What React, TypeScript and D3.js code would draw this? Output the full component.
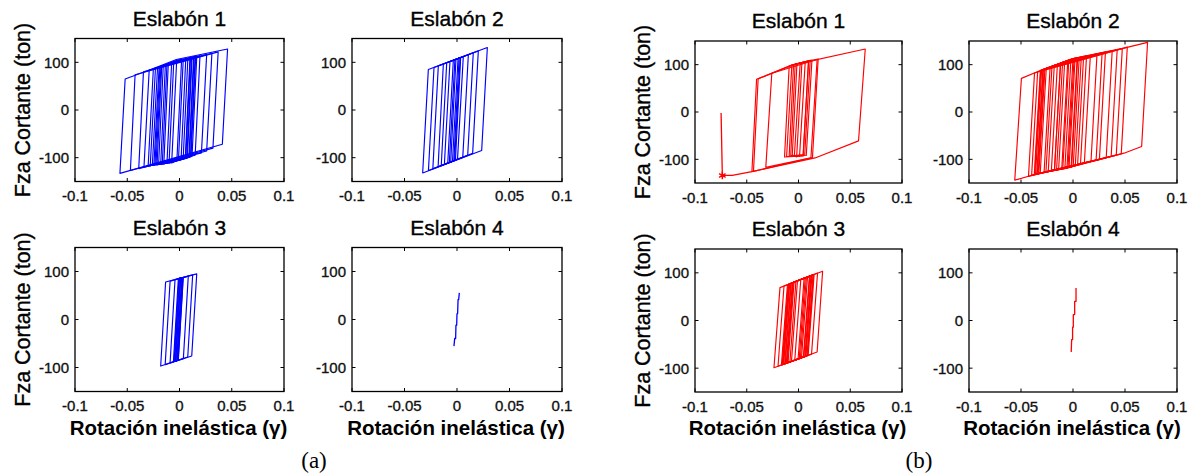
import React from "react";
import * as d3 from "d3";

type P = [number, number];

// ---------- data ----------
const xTicks = [-0.1, -0.05, 0, 0.05, 0.1];
const xTickLabels = ["-0.1", "-0.05", "0", "0.05", "0.1"];
const yTicks = [-100, 0, 100];
const yTickLabels = ["-100", "0", "100"];
const linkTitles = ["Eslabón 1", "Eslabón 2", "Eslabón 3", "Eslabón 4"];
const yLabel = "Fza Cortante (ton)";
const xLabel = "Rotación inelástica (γ)";
const captions = ["(a)", "(b)"];

// (a) Eslabón 1 — closed hysteresis loops [rotation, shear]
const loopsA1: P[][] = [
  [[-0.057, -133], [-0.052, 65], [-0.025, 87], [-0.003, 106], [0.046, 128], [0.041, -72]],
  [[-0.047, -127], [-0.0425, 74], [0.037, 122], [0.032, -80]],
  [[-0.039, -123], [-0.0345, 80], [0.031, 119], [0.026, -86]],
  [[-0.034, -120], [-0.029, 84], [0.026, 117], [0.021, -90]],
  [[-0.030, -118], [-0.025, 87], [0.0196, 114], [0.015, -95]],
  [[-0.028, -117], [-0.023, 88], [0.0165, 112], [0.012, -97]],
  [[-0.026, -116], [-0.021, 89], [0.014, 111], [0.0095, -99]],
  [[-0.0245, -115.5], [-0.0195, 90], [0.0105, 109.5], [0.006, -101]],
  [[-0.0235, -115], [-0.0187, 91], [0.012, 110], [0.0075, -100]],
  [[-0.0225, -115], [-0.0178, 91.5], [0.0135, 111], [0.009, -99.5]],
  [[-0.0215, -115], [-0.017, 92], [0.015, 112], [0.0105, -98]],
  [[-0.020, -114], [-0.0155, 94], [0.010, 109], [0.0055, -102]],
  [[-0.018, -114], [-0.0135, 95], [0.008, 108], [0.0035, -103]],
  [[-0.0165, -113.5], [-0.012, 96], [0.0155, 112.5], [0.011, -98]],
  [[-0.015, -113], [-0.0107, 98], [0.0036, 107], [-0.001, -105]],
  [[-0.012, -112], [-0.0075, 100], [0.006, 107.5], [0.0015, -104]],
  [[-0.01, -111.5], [-0.0055, 102], [0.0115, 110], [0.007, -100.5]],
  [[-0.0075, -111], [-0.0027, 104], [0.002, 106], [-0.0025, -106]],
];
const openA1: P[][] = [];

// (a) Eslabón 2
const loopsA2: P[][] = [
  [[-0.0327, -132], [-0.0273, 85], [0.0289, 131], [0.0235, -85]],
  [[-0.0272, -127], [-0.0219, 89], [0.0203, 124], [0.0149, -91]],
  [[-0.023, -123.5], [-0.0178, 92.6], [0.0155, 120], [0.0102, -95]],
  [[-0.018, -119], [-0.013, 96.5], [0.0108, 116], [0.0055, -99.4]],
  [[-0.015, -117], [-0.0098, 99], [0.006, 112], [0.0005, -103]],
  [[-0.012, -114], [-0.0067, 101.7], [0.003, 109.6], [-0.0023, -106]],
  [[-0.0088, -111.5], [-0.0035, 104.3], [0.001, 108], [-0.0043, -107.5]],
  [[-0.0073, -110], [-0.002, 105], [0.002, 109], [-0.003, -106.5]],
  [[-0.006, -109], [-0.001, 106], [0.0035, 110], [-0.0015, -105.5]],
];
const openA2: P[][] = [];

// (a) Eslabón 3
const loopsA3: P[][] = [
  [[-0.018, -97], [-0.0133, 78], [0.0165, 95], [0.0117, -76]],
  [[-0.0137, -94], [-0.009, 80], [0.0126, 93], [0.0079, -78]],
  [[-0.009, -90.3], [-0.0043, 83], [0.0084, 90.4], [0.0037, -81.5]],
  [[-0.0058, -88], [-0.0011, 85.4], [0.0036, 87.6], [-0.0011, -84.5]],
  [[-0.0052, -87.6], [-0.0005, 85.8], [0.003, 87.2], [-0.0017, -85]],
  [[-0.0046, -87.2], [0.0, 86], [0.0025, 87], [-0.0022, -85.3]],
  [[-0.004, -86.8], [0.0007, 86.4], [0.002, 86.6], [-0.0027, -85.7]],
  [[-0.0035, -86.4], [0.0012, 86.7], [0.0034, 87.5], [-0.0013, -84.7]],
];
const openA3: P[][] = [];

// (a) Eslabón 4 — elastic response only
const loopsA4: P[][] = [];
const openA4: P[][] = [
  [[-0.0029, -55.5], [-0.0022, -39.6], [-0.0013, -39.6], [-0.001, -11.9], [-0.0003, -11.9],
   [0.0, 12.4], [0.0006, 12.4], [0.001, 41.5], [0.0016, 41.5], [0.0022, 55.4]],
];

// (b) Eslabón 1
const loopsB1: P[][] = [
  [[-0.045, -126], [-0.0405, 69], [-0.0064, 99], [0.0645, 133], [0.058, -61], [0.016, -97]],
  [[-0.0435, -125.5], [-0.039, 70], [-0.0064, 99], [0.019, 112], [0.0135, -96]],
  [[-0.0316, -117], [-0.0258, 82], [0.018, 111], [0.012, -97]],
  [[-0.0135, -95], [-0.009, 97], [0.0097, 108], [0.0045, -93]],
  [[-0.0115, -94], [-0.0064, 99], [0.013, 110], [0.0075, -92]],
  [[-0.009, -93], [-0.0048, 100], [0.0065, 106], [0.001, -94]],
  [[-0.0075, -92], [-0.0032, 101], [0.0113, 109], [0.006, -91]],
  [[-0.006, -91], [-0.0015, 102], [0.0033, 104], [-0.0018, -95]],
  [[-0.004, -93], [0.0016, 103], [0.0097, 107], [0.0045, -90]],
];
const openB1: P[][] = [
  [[-0.045, -126], [-0.064, -134], [-0.0736, -134]],
  [[-0.0748, -2], [-0.0736, -134]],
];
const failurePoint: P[] = [[-0.0736, -134]];

// (b) Eslabón 2
const loopsB2: P[][] = [
  [[-0.056, -144], [-0.0496, 71], [-0.032, 87], [0.0, 113], [0.049, 135], [0.0717, 147],
   [0.066, -73], [0.049, -87], [0.0, -115], [-0.032, -129]],
  [[-0.0428, -136], [-0.037, 82.5], [0.0522, 137], [0.0464, -88.5]],
  [[-0.0398, -134], [-0.034, 85], [0.0474, 134], [0.0416, -91]],
  [[-0.0368, -132], [-0.031, 88], [0.0425, 132], [0.0367, -94]],
  [[-0.0348, -131], [-0.029, 89.4], [0.0377, 130], [0.0319, -97]],
  [[-0.0328, -129.5], [-0.027, 91], [0.0312, 127], [0.0254, -100.5]],
  [[-0.0278, -127], [-0.022, 95], [0.028, 125.6], [0.0222, -102]],
  [[-0.0238, -125.4], [-0.018, 98.4], [0.0231, 123.4], [0.0173, -105]],
  [[-0.0208, -124], [-0.015, 100.8], [0.0167, 120.5], [0.0109, -108.8]],
  [[-0.0178, -122.8], [-0.012, 103.3], [0.0102, 117.6], [0.0044, -112.5]],
  [[-0.0138, -121], [-0.008, 106.5], [0.006, 115.7], [0.0002, -115]],
  [[-0.0108, -119.7], [-0.005, 109], [0.004, 114.8], [-0.0018, -116]],
  [[-0.036, -131.5], [-0.0302, 88.5], [0.002, 114], [-0.0038, -117]],
  [[-0.0335, -130], [-0.0277, 90.5], [0.0, 113], [-0.0058, -118.5]],
  [[-0.0315, -128.8], [-0.0257, 92], [0.008, 116.6], [0.0022, -113.7]],
  [[-0.026, -126.4], [-0.0202, 96.5], [0.013, 119], [0.0072, -111]],
  [[-0.0372, -132.3], [-0.0314, 87.5], [-0.004, 110], [-0.0098, -119.5]],
  [[-0.0343, -130.5], [-0.0285, 90], [0.0045, 115], [-0.0013, -116.8]],
  [[-0.0178, -122.8], [-0.012, 103.3], [-0.002, 111], [-0.0078, -119]],
  [[-0.0158, -122], [-0.010, 105], [0.001, 112], [-0.0048, -117.5]],
];
const openB2: P[][] = [];

// (b) Eslabón 3
const loopsB3: P[][] = [
  [[-0.0237, -99], [-0.0179, 69], [0.0233, 103.5], [0.018, -66]],
  [[-0.0198, -96], [-0.014, 72.4], [0.0184, 99.5], [0.0126, -70.5]],
  [[-0.0165, -93.4], [-0.0107, 75.1], [0.0151, 96.8], [0.0093, -73.1]],
  [[-0.0158, -93], [-0.01, 75.5], [0.0145, 96.3], [0.0087, -73.5]],
  [[-0.0153, -92.4], [-0.0095, 76.1], [0.014, 95.9], [0.0082, -73.9]],
  [[-0.0148, -92], [-0.009, 76.6], [0.013, 95], [0.0072, -74.8]],
  [[-0.0143, -91.6], [-0.0085, 77], [0.0125, 94.5], [0.0067, -75.2]],
  [[-0.0133, -90.8], [-0.0075, 77.8], [0.012, 94], [0.0062, -75.6]],
  [[-0.0128, -90.4], [-0.007, 78.2], [0.011, 93.2], [0.0052, -76.3]],
  [[-0.0118, -89.7], [-0.006, 79.1], [0.0105, 92.7], [0.0047, -76.7]],
  [[-0.0113, -89.3], [-0.0055, 79.5], [0.0065, 89.6], [0.0007, -79.9]],
  [[-0.0108, -88.8], [-0.005, 80], [0.0076, 90.6], [0.0018, -79]],
  [[-0.0101, -88.3], [-0.0043, 80.5], [0.0087, 91.5], [0.0029, -78.1]],
  [[-0.0083, -87], [-0.0025, 82], [0.0054, 88.7], [-0.0004, -80.7]],
  [[-0.0068, -85.8], [-0.001, 83.3], [0.0022, 86], [-0.0036, -83.3]],
];
const openB3: P[][] = [];

// (b) Eslabón 4
const loopsB4: P[][] = [];
const openB4: P[][] = [
  [[-0.0017, -66], [-0.0013, -40], [-0.0004, -40], [-0.0004, -14], [0.0003, -14],
   [0.0003, 12.5], [0.0016, 12.5], [0.0016, 40], [0.0029, 40], [0.0029, 68]],
];

// ---------- layout ----------
const BLUE = "#0000ff";
const RED = "#ff0000";
const FONT = "Arial, 'Liberation Sans', sans-serif";

interface Panel {
  title: string;
  x: number; y: number; w: number; h: number;
  color: string;
  loops: P[][];
  open: P[][];
  marks?: P[];
  yLab: boolean;
  xLab: boolean;
}

const panels: Panel[] = [
  { title: linkTitles[0], x: 75, y: 38.5, w: 209, h: 143, color: BLUE, loops: loopsA1, open: openA1, yLab: true, xLab: false },
  { title: linkTitles[1], x: 352, y: 38.5, w: 210, h: 143, color: BLUE, loops: loopsA2, open: openA2, yLab: false, xLab: false },
  { title: linkTitles[2], x: 75, y: 247.5, w: 209, h: 144, color: BLUE, loops: loopsA3, open: openA3, yLab: true, xLab: true },
  { title: linkTitles[3], x: 352, y: 247.5, w: 210, h: 144, color: BLUE, loops: loopsA4, open: openA4, yLab: false, xLab: true },
  { title: linkTitles[0], x: 695, y: 41, w: 207, h: 142, color: RED, loops: loopsB1, open: openB1, marks: failurePoint, yLab: true, xLab: false },
  { title: linkTitles[1], x: 969, y: 41, w: 208, h: 142, color: RED, loops: loopsB2, open: openB2, yLab: false, xLab: false },
  { title: linkTitles[2], x: 695, y: 249, w: 207, h: 143, color: RED, loops: loopsB3, open: openB3, yLab: true, xLab: true },
  { title: linkTitles[3], x: 969, y: 249, w: 208, h: 143, color: RED, loops: loopsB4, open: openB4, yLab: false, xLab: true },
];

const captionPos = [
  { x: 314, y: 468 },
  { x: 919, y: 468 },
];

const TXT_STROKE = 0.35;

function PanelView({ p }: { p: Panel }) {
  const xs = d3.scaleLinear().domain([-0.1, 0.1]).range([p.x, p.x + p.w]);
  const ys = d3.scaleLinear().domain([-150, 150]).range([p.y + p.h, p.y]);
  const line = d3.line<P>().x((d) => xs(d[0])).y((d) => ys(d[1]));
  const tl = 3.5;
  const sym = (d3 as any).symbolAsterisk || d3.symbolCross;
  const star = d3.symbol().type(sym).size(40)();
  const bottom = p.y + p.h;
  return (
    <g>
      <text x={p.x + p.w / 2} y={p.y - 13} textAnchor="middle" fontFamily={FONT} fontSize={21} fill="#000" stroke="#000" strokeWidth={TXT_STROKE}>
        {p.title}
      </text>
      {p.loops.map((pts, i) => (
        <path key={"l" + i} d={(line(pts) || "") + "Z"} fill="none" stroke={p.color} strokeWidth={1.15} strokeLinejoin="round" />
      ))}
      {p.open.map((pts, i) => (
        <path key={"o" + i} d={line(pts) || ""} fill="none" stroke={p.color} strokeWidth={1.3} strokeLinejoin="round" />
      ))}
      {(p.marks || []).map((m, i) => (
        <path key={"m" + i} d={star || ""} transform={`translate(${xs(m[0])},${ys(m[1])})`} fill="none" stroke={p.color} strokeWidth={1.5} />
      ))}
      <rect x={p.x} y={p.y} width={p.w} height={p.h} fill="none" stroke="#000" strokeWidth={1.3} />
      {xTicks.map((t, i) => (
        <g key={"xt" + i}>
          <line x1={xs(t)} x2={xs(t)} y1={bottom} y2={bottom - tl} stroke="#000" />
          <line x1={xs(t)} x2={xs(t)} y1={p.y} y2={p.y + tl} stroke="#000" />
          <text x={xs(t)} y={bottom + 19.5} textAnchor="middle" fontFamily={FONT} fontSize={15} fill="#111" stroke="#111" strokeWidth={TXT_STROKE}>
            {xTickLabels[i]}
          </text>
        </g>
      ))}
      {yTicks.map((t, i) => (
        <g key={"yt" + i}>
          <line x1={p.x} x2={p.x + tl} y1={ys(t)} y2={ys(t)} stroke="#000" />
          <line x1={p.x + p.w} x2={p.x + p.w - tl} y1={ys(t)} y2={ys(t)} stroke="#000" />
          <text x={p.x - 6} y={ys(t)} dy="0.36em" textAnchor="end" fontFamily={FONT} fontSize={15} fill="#111" stroke="#111" strokeWidth={TXT_STROKE}>
            {yTickLabels[i]}
          </text>
        </g>
      ))}
      {p.yLab && (
        <text
          transform={`translate(${p.x - 53},${p.y + p.h / 2}) rotate(-90)`}
          textAnchor="middle"
          dy="0.35em"
          fontFamily={FONT}
          fontSize={21.5}
          fill="#000"
          stroke="#000"
          strokeWidth={TXT_STROKE}
        >
          {yLabel}
        </text>
      )}
      {p.xLab && (
        <text x={p.x + p.w / 2 - 1} y={bottom + 43} textAnchor="middle" fontFamily={FONT} fontSize={20.5} fontWeight="bold" fill="#000">
          {xLabel}
        </text>
      )}
    </g>
  );
}

export default function App() {
  return (
    <svg width={1191} height={474} style={{ position: "absolute", left: 0, top: 0, background: "#fff" }}>
      <rect x={0} y={0} width={1191} height={474} fill="#fff" />
      {panels.map((p, i) => (
        <PanelView key={i} p={p} />
      ))}
      {captions.map((c, i) => (
        <text key={c} x={captionPos[i].x} y={captionPos[i].y} textAnchor="middle" fontFamily="'Times New Roman', 'Liberation Serif', serif" fontSize={23} fill="#000">
          {c}
        </text>
      ))}
    </svg>
  );
}
